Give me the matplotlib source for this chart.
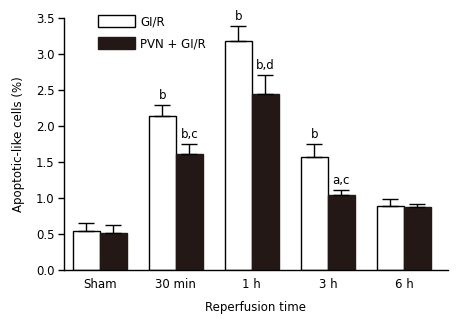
import matplotlib
matplotlib.use("Agg")
import matplotlib.pyplot as plt
import numpy as np

categories = ["Sham", "30 min", "1 h", "3 h", "6 h"]
gir = [0.54, 2.14, 3.18, 1.57, 0.89]
gir_err = [0.11, 0.15, 0.21, 0.18, 0.10]
pvn = [0.51, 1.61, 2.44, 1.04, 0.875]
pvn_err = [0.11, 0.14, 0.27, 0.07, 0.045]
gir_labels = ["", "b", "b", "b", ""]
pvn_labels = ["", "b,c", "b,d", "a,c", ""]
yticks = [0.0, 0.5, 1.0, 1.5, 2.0, 2.5, 3.0, 3.5]

plt.rcParams['font.family'] = ['DejaVu Sans']
fs = 8.5
dark = '#231815'

fig = plt.figure(figsize=(4.6, 3.19), dpi=100)
ax = fig.add_axes([64/460, 49/319, 384/460, 252/319])

x = np.arange(len(categories))
w = 0.355
ekw = dict(elinewidth=1.0, capthick=1.0, ecolor='black')
ax.bar(x - w/2, gir, w, color='white', edgecolor='black', linewidth=1.0,
       yerr=[np.zeros(len(gir)), gir_err], capsize=6, error_kw=ekw, label='GI/R')
ax.bar(x + w/2, pvn, w, color=dark, edgecolor=dark, linewidth=1.0,
       yerr=[np.zeros(len(pvn)), pvn_err], capsize=6, error_kw=ekw, label='PVN + GI/R')

for i in range(len(categories)):
    if gir_labels[i]:
        ax.text(x[i] - w/2, gir[i] + gir_err[i] + 0.04, gir_labels[i],
                ha='center', va='bottom', fontsize=fs)
    if pvn_labels[i]:
        ax.text(x[i] + w/2, pvn[i] + pvn_err[i] + 0.04, pvn_labels[i],
                ha='center', va='bottom', fontsize=fs)

ax.set_xlim(-0.47, 4.58)
ax.set_ylim(0, 3.5)
ax.set_yticks(yticks)
ax.set_yticklabels([f"{v:.1f}" for v in yticks], fontsize=fs)
ax.set_xticks(x)
ax.set_xticklabels(categories, fontsize=fs)
ax.tick_params(axis='x', length=0, pad=6)
ax.tick_params(axis='y', length=4, width=1, direction='out', pad=3)
for s in ['top', 'right']:
    ax.spines[s].set_visible(False)
for s in ['left', 'bottom']:
    ax.spines[s].set_linewidth(1.0)

ax.set_ylabel("Apoptotic-like cells (%)", fontsize=fs, labelpad=8)
ax.set_xlabel("Reperfusion time", fontsize=fs, labelpad=7)

ax.legend(loc='upper left', bbox_to_anchor=(0.075, 1.03), frameon=False,
          fontsize=fs, handlelength=3.2, handleheight=1.1, labelspacing=0.75,
          handletextpad=0.4, borderaxespad=0)

fig.savefig("out.png", dpi=100)
